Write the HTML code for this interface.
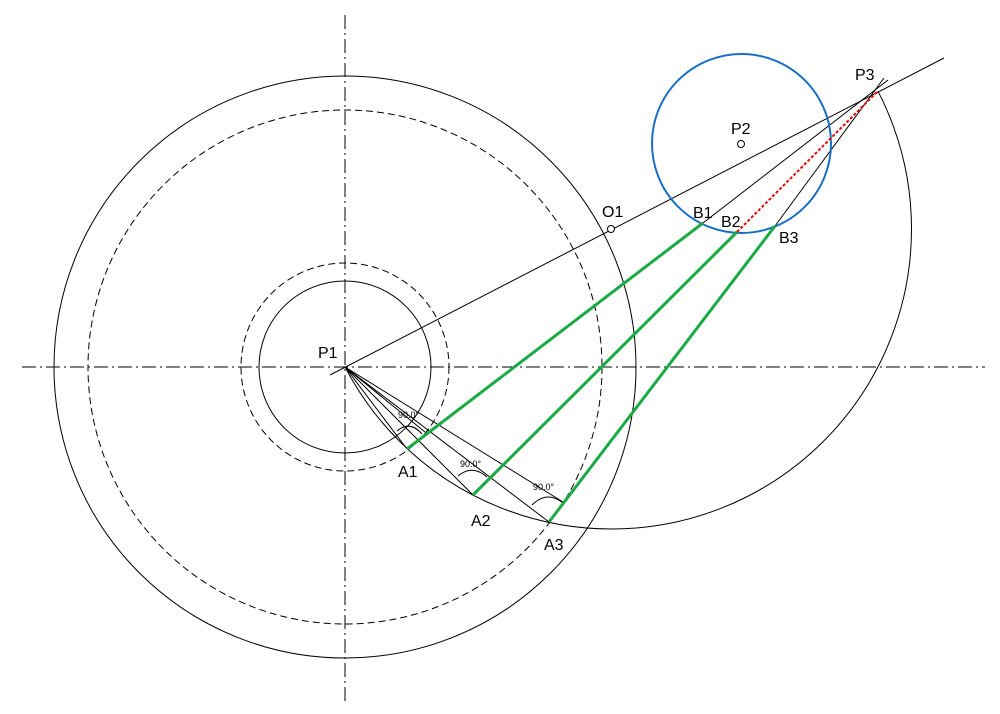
<!DOCTYPE html>
<html><head><style>body{margin:0;background:#fff}svg{display:block}text{font-family:"Liberation Sans",sans-serif;font-size:16px;fill:#000}</style></head><body>
<svg width="1000" height="714" viewBox="0 0 1000 714" xmlns="http://www.w3.org/2000/svg">
<defs><clipPath id="c"><polygon points="345,367 884,88 1000,88 1000,714 345,714"/></clipPath></defs>
<g fill="none" stroke="#000" stroke-width="1">
<line x1="345" y1="15" x2="345" y2="705" stroke-dasharray="14,4,2,4"/>
<line x1="22" y1="367" x2="985" y2="367" stroke-dasharray="14,4,2,4"/>
<circle cx="345" cy="367" r="291"/>
<circle cx="345" cy="367" r="257" stroke-dasharray="7,4"/>
<circle cx="345" cy="367" r="86"/>
<circle cx="345" cy="367" r="104" stroke-dasharray="7,4"/>
<circle cx="611.5" cy="229" r="300" clip-path="url(#c)"/>
<line x1="330" y1="375" x2="944" y2="58"/>
<line x1="703" y1="223" x2="888" y2="80"/>
<line x1="775" y1="226" x2="884" y2="78"/>
<line x1="345" y1="367" x2="407" y2="449"/>
<line x1="345" y1="367" x2="473" y2="495"/>
<line x1="345" y1="367" x2="549" y2="522"/>
<line x1="345" y1="367" x2="425" y2="432"/>
<line x1="345" y1="367" x2="563" y2="502"/>
<path d="M397 431 Q410 420 422 434"/>
<path d="M458 476 Q472 464 487 477"/>
<path d="M532 505 Q547 490 563 503"/>
<circle cx="611" cy="229" r="3.5" fill="#fff"/>
<circle cx="741" cy="144" r="3.5" fill="#fff"/>
</g>
<circle cx="741.5" cy="143.5" r="89.5" fill="none" stroke="#1a6fc4" stroke-width="2"/>
<line x1="737" y1="232" x2="877" y2="92" stroke="#e00" stroke-width="2" stroke-dasharray="3,2"/>
<g stroke="#1aaa44" stroke-width="3">
<line x1="407" y1="449" x2="703" y2="223"/>
<line x1="473" y1="495" x2="737" y2="232"/>
<line x1="549" y1="522" x2="775" y2="226"/>
</g>
<text x="398" y="418" style="font-size:9px">90.0°</text>
<text x="460" y="467" style="font-size:9px">90.0°</text>
<text x="533" y="490" style="font-size:9px">90.0°</text>
<text x="318" y="358">P1</text>
<text x="602" y="217">O1</text>
<text x="731" y="134">P2</text>
<text x="855" y="80">P3</text>
<text x="693" y="218">B1</text>
<text x="721" y="227">B2</text>
<text x="779" y="243">B3</text>
<text x="398" y="477">A1</text>
<text x="471" y="526">A2</text>
<text x="544" y="550">A3</text>
</svg>
</body></html>
